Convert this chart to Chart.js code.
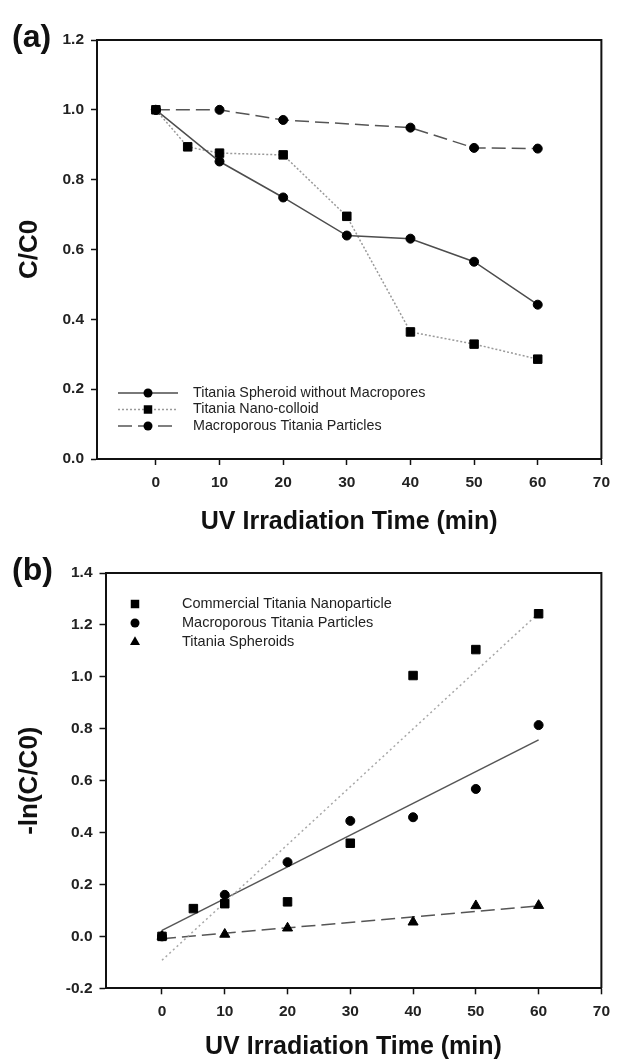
<!DOCTYPE html>
<html>
<head>
<meta charset="utf-8">
<script src="https://cdn.jsdelivr.net/npm/chart.js@4.4.1/dist/chart.umd.min.js"></script>
<style>
  html, body { margin: 0; padding: 0; background: #fff; }
  #page { position: relative; width: 618px; height: 1060px; overflow: hidden; }
  canvas { position: absolute; left: 0; }
  #chartA { top: 0; }
  #chartB { top: 535px; }
  .panel { position: absolute; left: 12px; font: bold 32px/1 "Liberation Sans", Arial, sans-serif; color: #111; }
</style>
</head>
<body>
<div id="page">
  <canvas id="chartA" width="618" height="535"></canvas>
  <canvas id="chartB" width="618" height="525"></canvas>
  <div class="panel" style="top:20px">(a)</div>
  <div class="panel" style="top:553px">(b)</div>
</div>
<script>
// tick marks shown on the axes
const xTicks = [0, 10, 20, 30, 40, 50, 60, 70];
const yTicksA = [0, 0.2, 0.4, 0.6, 0.8, 1.0, 1.2];
const yTicksB = [-0.2, 0, 0.2, 0.4, 0.6, 0.8, 1.0, 1.2, 1.4];

// (a) C/C0 vs time, null = no point at that time
const timesA = [0, 5, 10, 20, 30, 40, 50, 60];
const spheroidA = [1.0, null, 0.852, 0.749, 0.640, 0.631, 0.565, 0.442];
const colloidA = [1.0, 0.894, 0.876, 0.871, 0.695, 0.364, 0.329, 0.286];
const macroA = [1.0, null, 1.0, 0.971, null, 0.949, 0.891, 0.889];

// (b) -ln(C/C0) vs time
const timesB = [0, 5, 10, 20, 30, 40, 50, 60];
const commercialB = [0.0, 0.107, 0.126, 0.133, 0.359, 1.005, 1.105, 1.243];
const macroB = [0.0, null, 0.160, 0.286, 0.445, 0.459, 0.568, 0.814];
const spheroidB = [0.0, null, 0.008, 0.032, null, 0.055, 0.118, 0.119];

// fitted lines in (b), read at both ends
const fitTimes = [0, 60];
const fitCommercial = [-0.092, 1.245];
const fitMacro = [0.023, 0.757];
const fitSpheroid = [-0.009, 0.117];

const FONT = '"Liberation Sans", Arial, sans-serif';
const INK = '#111';

function pts(xs, ys) {
  return xs.map((x, i) => ({ x, y: ys[i] })).filter(p => p.y !== null);
}

function drawMarker(ctx, style, x, y, r) {
  ctx.beginPath();
  if (style === 'rect') {
    const h = r * Math.SQRT1_2;
    ctx.rect(x - h, y - h, h * 2, h * 2);
  } else if (style === 'triangle') {
    ctx.moveTo(x, y - r);
    ctx.lineTo(x + r * 0.866, y + r * 0.5);
    ctx.lineTo(x - r * 0.866, y + r * 0.5);
    ctx.closePath();
  } else {
    ctx.arc(x, y, r, 0, Math.PI * 2);
  }
  ctx.fill();
}

// legend drawn inside the plot, like the original
const boxLegend = {
  id: 'boxLegend',
  afterDraw(chart, args, o) {
    const ctx = chart.ctx;
    ctx.save();
    ctx.font = o.font;
    ctx.textBaseline = 'middle';
    o.items.forEach((idx, k) => {
      const ds = chart.data.datasets[idx];
      const y = o.y + k * o.gap;
      if (o.lineFrom !== undefined) {
        ctx.save();
        ctx.strokeStyle = ds.borderColor;
        ctx.lineWidth = ds.borderWidth;
        ctx.setLineDash(ds.borderDash || []);
        ctx.beginPath();
        ctx.moveTo(o.lineFrom, y);
        ctx.lineTo(o.lineTo, y);
        ctx.stroke();
        ctx.restore();
      }
      ctx.fillStyle = '#000';
      drawMarker(ctx, ds.pointStyle, o.markerX, y, ds.pointRadius);
      ctx.fillStyle = '#222';
      ctx.fillText(ds.label, o.textX, y);
    });
    ctx.restore();
  }
};

const frame = {
  id: 'frame',
  afterDraw(chart) {
    const { ctx, chartArea: a } = chart;
    ctx.save();
    ctx.strokeStyle = INK;
    ctx.lineWidth = 2;
    ctx.beginPath();
    ctx.moveTo(a.left, a.top);
    ctx.lineTo(a.right, a.top);
    ctx.lineTo(a.right, a.bottom);
    ctx.stroke();
    ctx.restore();
  }
};

function xAxis(min, height, titlePad) {
  return {
    type: 'linear', min: min, max: 70,
    afterFit: s => { s.height = height; },
    afterBuildTicks: s => { s.ticks = xTicks.map(v => ({ value: v })); },
    ticks: { autoSkip: false, maxRotation: 0, padding: 8,
             color: '#222', font: { family: FONT, size: 15.5, weight: 'bold' },
             callback: v => String(v) },
    grid: { drawOnChartArea: false, tickLength: 6, color: INK, tickWidth: 1.5 },
    border: { color: INK, width: 2 },
    title: { display: true, text: 'UV Irradiation Time (min)', color: INK,
             font: { family: FONT, size: 25, weight: 'bold', lineHeight: 1 },
             padding: { top: 0, bottom: titlePad } }
  };
}

function yAxis(min, max, ticks, width, text) {
  return {
    type: 'linear', min: min, max: max,
    afterFit: s => { s.width = width; },
    afterBuildTicks: s => { s.ticks = ticks.map(v => ({ value: v })); },
    ticks: { autoSkip: false, padding: 7, color: '#222',
             font: { family: FONT, size: 15.5, weight: 'bold' },
             callback: v => v.toFixed(1) },
    grid: { drawOnChartArea: false, tickLength: 6, color: INK, tickWidth: 1.5 },
    border: { color: INK, width: 2 },
    title: { display: true, text: text, color: INK,
             font: { family: FONT, size: 26, weight: 'bold', lineHeight: 1 },
             padding: { top: 17, bottom: 0 } }
  };
}

function lineSet(label, data, color, dash, style, r) {
  return { label, data, borderColor: color, borderWidth: 1.5, borderDash: dash,
           pointStyle: style, pointRadius: r, pointBackgroundColor: '#000',
           pointBorderColor: '#000', pointBorderWidth: 1, showLine: true, fill: false };
}

function fitSet(data, color, dash) {
  return { label: '', data, borderColor: color, borderWidth: 1.5, borderDash: dash,
           pointRadius: 0, showLine: true, fill: false };
}

const common = {
  responsive: false,
  animation: false,
  devicePixelRatio: 1,
  events: []
};

new Chart(document.getElementById('chartA'), {
  type: 'scatter',
  data: {
    datasets: [
      lineSet('Titania Spheroid without Macropores', pts(timesA, spheroidA), '#4d4d4d', [], 'circle', 4.5),
      lineSet('Titania Nano-colloid', pts(timesA, colloidA), '#9a9a9a', [2, 2], 'rect', 6),
      lineSet('Macroporous Titania Particles', pts(timesA, macroA), '#555', [14, 6], 'circle', 4.5)
    ]
  },
  options: Object.assign({}, common, {
    layout: { padding: { top: 40, right: 16, left: 0, bottom: 0 } },
    scales: { x: xAxis(-9.25, 76, 0.5), y: yAxis(0, 1.2, yTicksA, 97, 'C/C0') },
    plugins: {
      legend: { display: false }, tooltip: { enabled: false },
      boxLegend: { items: [0, 1, 2], y: 393, gap: 16.5, lineFrom: 118, lineTo: 178,
                   markerX: 148, textX: 193, font: '14.3px ' + FONT }
    }
  }),
  plugins: [boxLegend, frame]
});

new Chart(document.getElementById('chartB'), {
  type: 'scatter',
  data: {
    datasets: [
      lineSet('Commercial Titania Nanoparticle', pts(timesB, commercialB), '#000', [], 'rect', 6),
      lineSet('Macroporous Titania Particles', pts(timesB, macroB), '#000', [], 'circle', 4.5),
      lineSet('Titania Spheroids', pts(timesB, spheroidB), '#000', [], 'triangle', 5.8),
      fitSet(pts(fitTimes, fitCommercial), '#a8a8a8', [2, 3]),
      fitSet(pts(fitTimes, fitMacro), '#555', []),
      fitSet(pts(fitTimes, fitSpheroid), '#555', [14, 6])
    ].map((d, i) => i < 3 ? Object.assign(d, { showLine: false }) : d)
  },
  options: Object.assign({}, common, {
    layout: { padding: { top: 38, right: 9, left: 0, bottom: 0 } },
    scales: { x: xAxis(-9, 71.7, 0), y: yAxis(-0.2, 1.4, yTicksB, 105.5, '-ln(C/C0)') },
    plugins: {
      legend: { display: false }, tooltip: { enabled: false },
      boxLegend: { items: [0, 1, 2], y: 69, gap: 19, markerX: 135, textX: 182,
                   font: '14.5px ' + FONT }
    }
  }),
  plugins: [boxLegend, frame]
});
</script>
</body>
</html>
